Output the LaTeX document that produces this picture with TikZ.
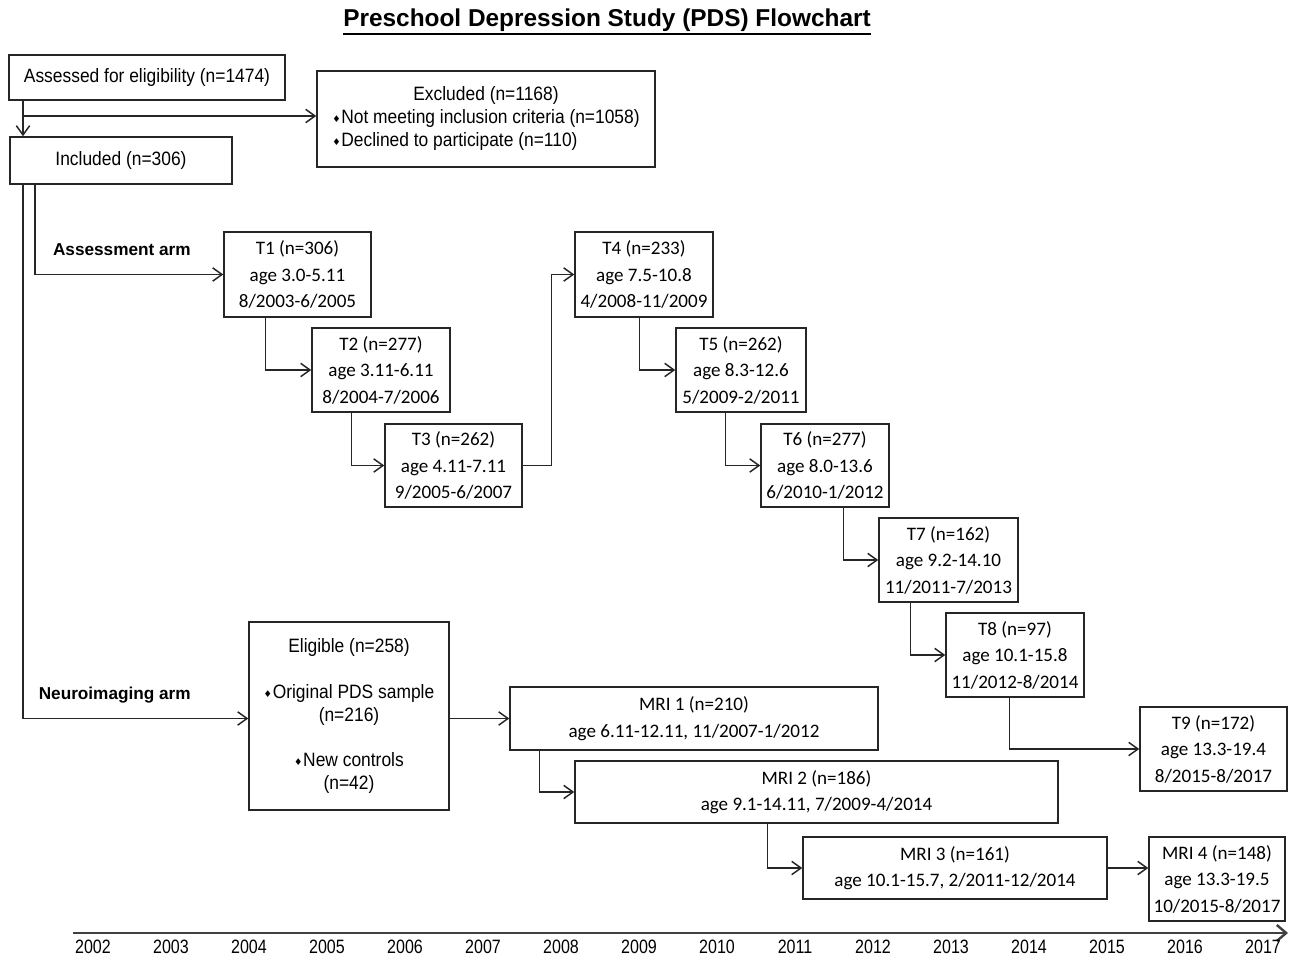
\documentclass[tikz,border=0pt]{standalone}
\usepackage{fontspec}
\setmainfont{Liberation Sans}
\newfontfamily\arialc{Liberation Sans}[FakeStretch=0.9]
\newfontfamily\calfont{Carlito}
\newfontfamily\symfont{DejaVu Sans}
\newfontfamily\yrfont{Liberation Sans}[FakeStretch=0.83]
\usetikzlibrary{arrows.meta,calc}
\newcommand\dm{{\symfont\fontsize{7}{7}\selectfont\raisebox{0.2ex}{♦}}\hspace{0.5pt}}
\tikzset{
  x=0.75pt, y=-0.75pt,
  box/.style={draw=black!85, line width=1.1pt, inner sep=0pt, text=black},
  ab/.style={box, align=center, font=\arialc\fontsize{14.5}{17.2}\selectfont},
  tb/.style={box, align=center, font=\calfont\fontsize{14.3}{19.9}\selectfont},
  arr/.style={draw=black!85, line width=1.1pt, -{Straight Barb[length=7pt,width=10pt]}},
  tline/.style={draw=black!75, line width=1.8pt, -{Straight Barb[length=7pt,width=12pt]}},
  armlbl/.style={inner sep=0pt, anchor=east, font=\bfseries\fontsize{12.9}{15}\selectfont},
  yrs/.style={inner sep=0pt, font=\yrfont\fontsize{14.5}{16}\selectfont},
}
\newcommand\bx[7][ab]{\node[#1, minimum width={(#5-(#3))*0.75pt}, minimum height={(#6-(#4))*0.75pt}] (#2) at ({(#3+#5)/2},{(#4+#6)/2}) {#7};}
\begin{document}
\begin{tikzpicture}
\fill[white] (0,0) rectangle (1291,956);
\useasboundingbox (0,0) rectangle (1291,956);

% title
\node[inner sep=0pt, font=\bfseries\fontsize{18.3}{20}\selectfont] (title) at (607,20) {Preschool Depression Study (PDS) Flowchart};
\draw[line width=1.5pt] ([yshift=-1.6pt]title.south west) -- ([yshift=-1.6pt]title.south east);

% top boxes
\bx{ass}{9}{55}{285}{100}{Assessed for eligibility (n=1474)}
\bx{exc}{317}{71}{655}{167}{\begin{tabular}{@{}l@{}}\multicolumn{1}{@{}c@{}}{Excluded (n=1168)}\\\dm Not meeting inclusion criteria (n=1058)\\\dm Declined to participate (n=110)\end{tabular}}
\bx{inc}{10}{137}{232}{184}{Included (n=306)}

% arm labels
\node[armlbl] (aa) at (191,250) {Assessment arm};
\node[armlbl] (na) at (191,695) {Neuroimaging arm};

% assessment boxes
\bx[tb]{t1}{224}{232}{371}{317}{T1 (n=306)\\age 3.0-5.11\\8/2003-6/2005}
\bx[tb]{t2}{312}{328}{450}{412}{T2 (n=277)\\age 3.11-6.11\\8/2004-7/2006}
\bx[tb]{t3}{385}{424}{522}{507}{T3 (n=262)\\age 4.11-7.11\\9/2005-6/2007}
\bx[tb]{t4}{575}{232}{713}{317}{T4 (n=233)\\age 7.5-10.8\\4/2008-11/2009}
\bx[tb]{t5}{676}{328}{806}{412}{T5 (n=262)\\age 8.3-12.6\\5/2009-2/2011}
\bx[tb]{t6}{761}{424}{889}{507}{T6 (n=277)\\age 8.0-13.6\\6/2010-1/2012}
\bx[tb]{t7}{879}{518}{1018}{602}{T7 (n=162)\\age 9.2-14.10\\11/2011-7/2013}
\bx[tb]{t8}{946}{613}{1084}{697}{T8 (n=97)\\age 10.1-15.8\\11/2012-8/2014}
\bx[tb]{t9}{1140}{707}{1287}{791}{T9 (n=172)\\age 13.3-19.4\\8/2015-8/2017}

% neuroimaging boxes
\bx{elig}{249}{622}{449}{810}{Eligible (n=258)\\[17.2pt]\dm Original PDS sample\\(n=216)\\[17.2pt]\dm New controls\\(n=42)}
\bx[tb]{mri1}{510}{687}{878}{750}{MRI 1 (n=210)\\age 6.11-12.11, 11/2007-1/2012}
\bx[tb]{mri2}{575}{761}{1058}{823}{MRI 2 (n=186)\\age 9.1-14.11, 7/2009-4/2014}
\bx[tb]{mri3}{803}{837}{1107}{899}{MRI 3 (n=161)\\age 10.1-15.7, 2/2011-12/2014}
\bx[tb]{mri4}{1149}{837}{1285}{921}{MRI 4 (n=148)\\age 13.3-19.5\\10/2015-8/2017}

% connectors
\coordinate (c1) at (23,0);
\coordinate (c2) at (35,0);
\coordinate (j1) at (23,116);
\draw[arr] (ass.south -| c1) -- (inc.north -| c1);
\draw[arr] (j1) -- (j1 -| exc.west);
\draw[arr] (inc.south -| c2) |- (t1.west);
\draw[arr] (inc.south -| c1) |- (elig.west |- mri1.west);
\draw[arr] (elig.east |- mri1.west) -- (mri1.west);

\draw[arr] ($(t1.south west)+(42,0)$) |- (t2.west);
\draw[arr] ($(t2.south west)+(40,0)$) |- (t3.west);
\draw[arr] (t3.east) -- ++(29,0) |- (t4.west);
\draw[arr] ($(t4.south west)+(65,0)$) |- (t5.west);
\draw[arr] ($(t5.south west)+(50,0)$) |- (t6.west);
\draw[arr] ($(t6.south west)+(83,0)$) |- (t7.west);
\draw[arr] ($(t7.south west)+(32,0)$) |- (t8.west);
\draw[arr] ($(t8.south west)+(64,0)$) |- (t9.west);

\draw[arr] ($(mri1.south west)+(30,0)$) |- (mri2.west);
\draw[arr] ($(mri2.south west)+(193,0)$) |- (mri3.west);
\draw[arr] (mri3.east) -- (mri3.east -| mri4.west);

% timeline
\coordinate (tl0) at (73,933);
\coordinate (tl1) at (1288,933);
\draw[tline] (tl0) -- (tl1);
\foreach \i in {0,...,15}{
  \node[yrs] (y\i) at ({93+78*\i},947) {\the\numexpr2002+\i\relax};
}
\end{tikzpicture}
\end{document}
